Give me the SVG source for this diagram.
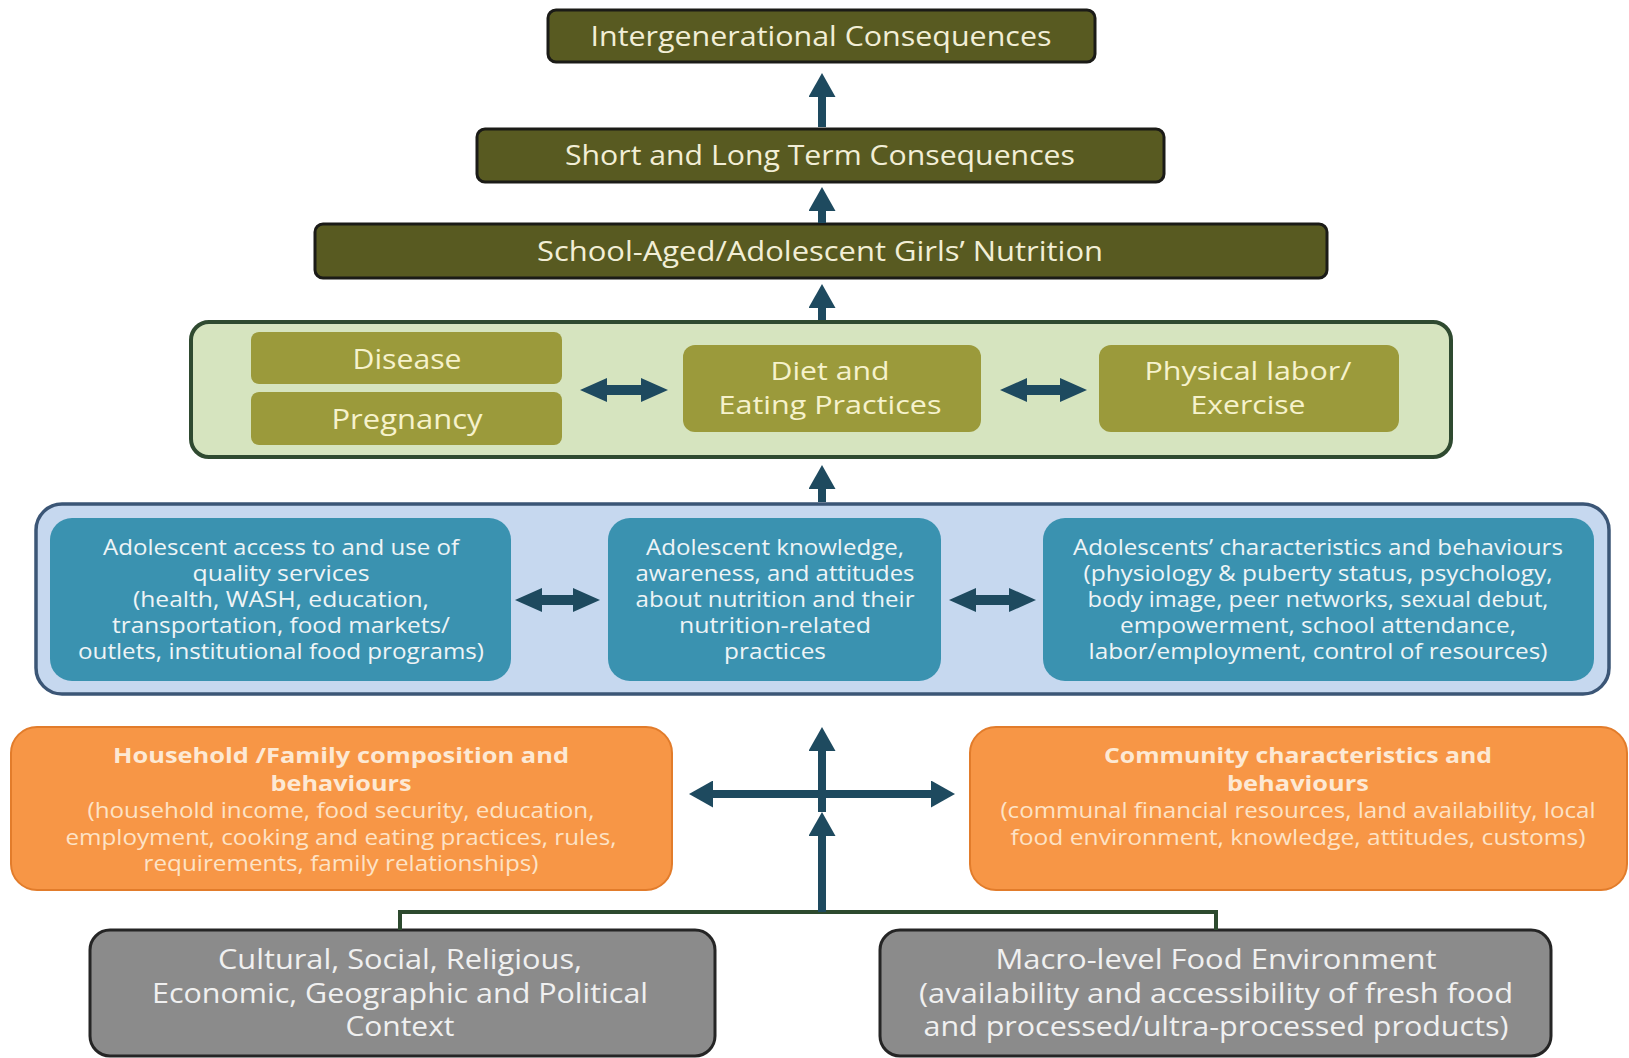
<svg xmlns="http://www.w3.org/2000/svg" width="1629" height="1058" viewBox="0 0 1629 1058">
<style>
text{font-family:"Open Sans","Liberation Sans",sans-serif;text-anchor:middle}
.title rect{fill:#585a21;stroke:#1b1b17;stroke-width:3}
.title text{fill:#f2eed6;font-size:28px}
.olive rect{fill:#9b9a3b}
.olive text{fill:#f6f2cc;font-size:28px}
.olive text.t2{font-size:25px}
.blue rect{fill:#3a92b0}
.blue text{fill:#eef4f6;font-size:21px}
.orange rect{fill:#f79646;stroke:#e27c2b;stroke-width:2}
.orange text{fill:#fde3c6;font-size:21px}
.orange text.b{font-weight:bold;fill:#fde9d4;font-size:21px}
.gray rect{fill:#8b8b8b;stroke:#252525;stroke-width:3}
.gray text{fill:#f0f0f0;font-size:27px}
.arr{stroke:#1e4a5f;stroke-width:8;fill:none}
.dbl{stroke:#1e4a5f;stroke-width:10;fill:none}
.brk{stroke:#2d4a2e;stroke-width:4;fill:none}
</style>
<defs>
<marker id="ah" viewBox="0 0 24 27" refX="0" refY="13.5" markerWidth="24" markerHeight="27" markerUnits="userSpaceOnUse" orient="auto-start-reverse">
<path d="M0,0 L24,13.5 L0,27 Z" fill="#1e4a5f"/>
</marker>
<marker id="dh" viewBox="0 0 27 24" refX="0" refY="12" markerWidth="27" markerHeight="24" markerUnits="userSpaceOnUse" orient="auto-start-reverse">
<path d="M0,0 L27,12 L0,24 Z" fill="#1e4a5f"/>
</marker>
</defs>
<rect width="1629" height="1058" fill="#ffffff"/>

<g id="container-green">
<rect x="191" y="322" width="1260" height="135" rx="18" fill="#d6e4bf" stroke="#2f4a30" stroke-width="4"/>
</g>
<g id="container-blue">
<rect x="36" y="504" width="1573" height="190" rx="26" fill="#c6d8ef" stroke="#3b5676" stroke-width="3.5"/>
</g>

<g id="intergenerational" class="title">
<rect x="548" y="10" width="547" height="52" rx="8"/>
<text x="821" y="46" textLength="461" lengthAdjust="spacingAndGlyphs">Intergenerational Consequences</text>
</g>
<g id="short-long" class="title">
<rect x="477" y="129" width="687" height="53" rx="8"/>
<text x="820" y="164.5" textLength="510" lengthAdjust="spacingAndGlyphs">Short and Long Term Consequences</text>
</g>
<g id="girls-nutrition" class="title">
<rect x="315" y="224" width="1012" height="54" rx="8"/>
<text x="820" y="261" textLength="566" lengthAdjust="spacingAndGlyphs">School-Aged/Adolescent Girls’ Nutrition</text>
</g>

<g id="disease" class="olive">
<rect x="251" y="332" width="311" height="52" rx="8"/>
<text x="407" y="368.5" textLength="109" lengthAdjust="spacingAndGlyphs">Disease</text>
</g>
<g id="pregnancy" class="olive">
<rect x="251" y="392" width="311" height="53" rx="8"/>
<text x="407" y="428.5" textLength="151" lengthAdjust="spacingAndGlyphs">Pregnancy</text>
</g>
<g id="diet" class="olive">
<rect x="683" y="345" width="298" height="87" rx="12"/>
<text class="t2" x="830" y="380" textLength="119" lengthAdjust="spacingAndGlyphs">Diet and</text>
<text class="t2" x="830" y="414" textLength="223" lengthAdjust="spacingAndGlyphs">Eating Practices</text>
</g>
<g id="physical" class="olive">
<rect x="1099" y="345" width="300" height="87" rx="12"/>
<text class="t2" x="1248" y="380" textLength="207" lengthAdjust="spacingAndGlyphs">Physical labor/</text>
<text class="t2" x="1248" y="414" textLength="115" lengthAdjust="spacingAndGlyphs">Exercise</text>
</g>

<g id="access-services" class="blue">
<rect x="50" y="518" width="461" height="163" rx="22"/>
<text x="281" y="555" textLength="356" lengthAdjust="spacingAndGlyphs">Adolescent access to and use of</text>
<text x="281" y="581" textLength="177" lengthAdjust="spacingAndGlyphs">quality services</text>
<text x="281" y="607" textLength="296" lengthAdjust="spacingAndGlyphs">(health, WASH, education,</text>
<text x="281" y="633" textLength="338" lengthAdjust="spacingAndGlyphs">transportation, food markets/</text>
<text x="281" y="659" textLength="406" lengthAdjust="spacingAndGlyphs">outlets, institutional food programs)</text>
</g>
<g id="knowledge" class="blue">
<rect x="608" y="518" width="333" height="163" rx="22"/>
<text x="775" y="555" textLength="258" lengthAdjust="spacingAndGlyphs">Adolescent knowledge,</text>
<text x="775" y="581" textLength="279" lengthAdjust="spacingAndGlyphs">awareness, and attitudes</text>
<text x="775" y="607" textLength="279" lengthAdjust="spacingAndGlyphs">about nutrition and their</text>
<text x="775" y="633" textLength="192" lengthAdjust="spacingAndGlyphs">nutrition-related</text>
<text x="775" y="659" textLength="102" lengthAdjust="spacingAndGlyphs">practices</text>
</g>
<g id="characteristics" class="blue">
<rect x="1043" y="518" width="551" height="163" rx="22"/>
<text x="1318" y="555" textLength="490" lengthAdjust="spacingAndGlyphs">Adolescents’ characteristics and behaviours</text>
<text x="1318" y="581" textLength="469" lengthAdjust="spacingAndGlyphs">(physiology &amp; puberty status, psychology,</text>
<text x="1318" y="607" textLength="461" lengthAdjust="spacingAndGlyphs">body image, peer networks, sexual debut,</text>
<text x="1318" y="633" textLength="396" lengthAdjust="spacingAndGlyphs">empowerment, school attendance,</text>
<text x="1318" y="659" textLength="459" lengthAdjust="spacingAndGlyphs">labor/employment, control of resources)</text>
</g>

<g id="household" class="orange">
<rect x="11" y="727" width="661" height="163" rx="26"/>
<text class="b" x="341" y="763" textLength="456" lengthAdjust="spacingAndGlyphs">Household /Family composition and</text>
<text class="b" x="341" y="791" textLength="141" lengthAdjust="spacingAndGlyphs">behaviours</text>
<text x="341" y="818" textLength="507" lengthAdjust="spacingAndGlyphs">(household income, food security, education,</text>
<text x="341" y="845" textLength="551" lengthAdjust="spacingAndGlyphs">employment, cooking and eating practices, rules,</text>
<text x="341" y="871" textLength="395" lengthAdjust="spacingAndGlyphs">requirements, family relationships)</text>
</g>
<g id="community" class="orange">
<rect x="970" y="727" width="657" height="163" rx="26"/>
<text class="b" x="1298" y="763" textLength="388" lengthAdjust="spacingAndGlyphs">Community characteristics and</text>
<text class="b" x="1298" y="791" textLength="142" lengthAdjust="spacingAndGlyphs">behaviours</text>
<text x="1298" y="818" textLength="595" lengthAdjust="spacingAndGlyphs">(communal financial resources, land availability, local</text>
<text x="1298" y="845" textLength="575" lengthAdjust="spacingAndGlyphs">food environment,  knowledge, attitudes, customs)</text>
</g>

<g id="cultural" class="gray">
<rect x="90" y="930" width="625" height="126" rx="20"/>
<text x="400" y="968.5" textLength="364" lengthAdjust="spacingAndGlyphs">Cultural, Social, Religious,</text>
<text x="400" y="1002.5" textLength="496" lengthAdjust="spacingAndGlyphs">Economic, Geographic and Political</text>
<text x="400" y="1036" textLength="109" lengthAdjust="spacingAndGlyphs">Context</text>
</g>
<g id="macro" class="gray">
<rect x="880" y="930" width="671" height="126" rx="20"/>
<text x="1216" y="968.5" textLength="441" lengthAdjust="spacingAndGlyphs">Macro-level Food Environment</text>
<text x="1216" y="1002.5" textLength="594" lengthAdjust="spacingAndGlyphs">(availability and accessibility of fresh food</text>
<text x="1216" y="1036" textLength="585" lengthAdjust="spacingAndGlyphs">and processed/ultra-processed products)</text>
</g>

<g id="connectors">
<line class="arr" x1="822" y1="127" x2="822" y2="97" marker-end="url(#ah)"/>
<line class="arr" x1="822" y1="223" x2="822" y2="211" marker-end="url(#ah)"/>
<line class="arr" x1="822" y1="320" x2="822" y2="308" marker-end="url(#ah)"/>
<line class="arr" x1="822" y1="502" x2="822" y2="489" marker-end="url(#ah)"/>
<line class="dbl" x1="607" y1="390" x2="641" y2="390" marker-start="url(#dh)" marker-end="url(#dh)"/>
<line class="dbl" x1="1027" y1="390" x2="1060" y2="390" marker-start="url(#dh)" marker-end="url(#dh)"/>
<line class="dbl" x1="542" y1="600" x2="573" y2="600" marker-start="url(#dh)" marker-end="url(#dh)"/>
<line class="dbl" x1="976" y1="600" x2="1009" y2="600" marker-start="url(#dh)" marker-end="url(#dh)"/>
<polyline class="brk" points="400,930 400,912 1216,912 1216,930"/>
<line class="arr" x1="822" y1="912" x2="822" y2="836" marker-end="url(#ah)"/>
<line class="arr" x1="822" y1="812" x2="822" y2="751" marker-end="url(#ah)"/>
<line class="arr" x1="713" y1="794" x2="931" y2="794" marker-start="url(#ah)" marker-end="url(#ah)"/>
</g>
</svg>
